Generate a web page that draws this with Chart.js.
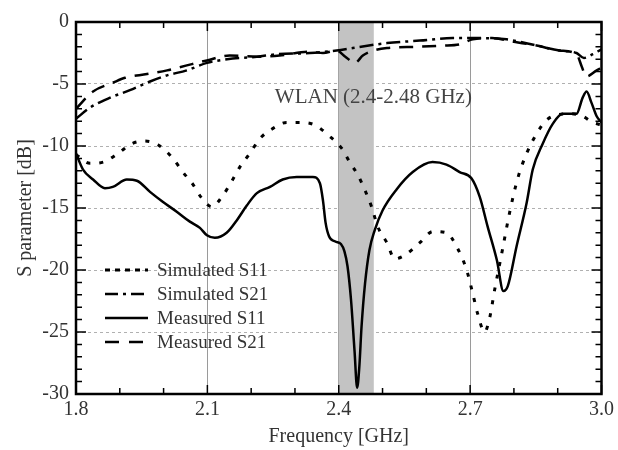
<!DOCTYPE html>
<html>
<head>
<meta charset="utf-8">
<script src="https://cdn.jsdelivr.net/npm/chart.js@4.4.1/dist/chart.umd.min.js"></script>
<style>
  html, body { margin: 0; padding: 0; background: #fff; }
  #wrap { width: 618px; height: 450px; position: relative; }
</style>
</head>
<body>
<div id="wrap"><canvas id="c" width="618" height="450"></canvas></div>
<script>
// ---- Data ----
const seriesNames = ['Simulated S11', 'Simulated S21', 'Measured S11', 'Measured S21'];

const simS11Freq = [1.800,1.832,1.862,1.896,1.928,1.957,1.987,2.019,2.044,2.067,2.087,2.110,2.135,2.158,2.174,2.197,2.220,2.249,2.281,2.311,2.345,2.375,2.407,2.425,2.443,2.459,2.475,2.489,2.510,2.528,2.551,2.585,2.615,2.646,2.669,2.692,2.706,2.717,2.733,2.745,2.756,2.772,2.790,2.808,2.829,2.852,2.875,2.897,2.927,2.957,2.980,3.000];
const simS11Vals = [-10.7,-11.4,-11.3,-10.6,-9.8,-9.6,-9.9,-10.9,-12.1,-13.1,-14.2,-14.9,-14.0,-12.7,-11.7,-10.6,-9.4,-8.6,-8.1,-8.1,-8.3,-9.1,-10.2,-11.3,-12.3,-13.5,-14.9,-16.5,-17.8,-19.1,-18.8,-17.8,-16.9,-17.0,-18.1,-20.0,-21.9,-23.5,-25.0,-23.8,-21.6,-18.7,-15.4,-12.7,-10.6,-9.0,-7.9,-7.5,-7.4,-7.6,-8.1,-8.3];

const simS21Freq = [1.800,1.832,1.878,1.923,1.969,2.008,2.053,2.099,2.145,2.213,2.259,2.334,2.395,2.432,2.510,2.585,2.660,2.722,2.783,2.852,2.904,2.943,2.960,2.980,3.000];
const simS21Vals = [-7.8,-6.9,-6.1,-5.5,-4.8,-4.3,-3.9,-3.3,-3.0,-2.8,-2.6,-2.5,-2.3,-2.1,-1.7,-1.5,-1.3,-1.3,-1.4,-1.9,-2.3,-2.5,-2.9,-2.6,-2.2];

const measS11Freq = [1.800,1.816,1.839,1.866,1.884,1.916,1.939,1.969,1.998,2.030,2.060,2.083,2.099,2.117,2.144,2.167,2.190,2.213,2.243,2.272,2.304,2.341,2.357,2.364,2.370,2.378,2.392,2.405,2.413,2.420,2.428,2.436,2.442,2.447,2.452,2.460,2.470,2.482,2.500,2.532,2.569,2.614,2.646,2.676,2.703,2.722,2.740,2.761,2.776,2.786,2.806,2.829,2.843,2.866,2.889,2.911,2.943,2.957,2.966,2.977,2.989,3.000];
const measS11Vals = [-10.6,-11.9,-12.7,-13.4,-13.3,-12.7,-12.8,-13.7,-14.5,-15.3,-16.1,-16.6,-17.2,-17.4,-17.0,-16.0,-14.8,-13.8,-13.3,-12.7,-12.5,-12.5,-13.0,-14.4,-16.2,-17.3,-17.7,-17.9,-18.5,-19.7,-22.4,-26.5,-29.5,-27.8,-24.6,-21.1,-18.4,-16.8,-15.2,-13.5,-12.1,-11.3,-11.5,-12.1,-12.6,-14.1,-16.5,-19.2,-21.7,-21.3,-18.1,-14.6,-11.9,-9.8,-8.2,-7.4,-7.4,-6.1,-5.6,-6.5,-7.6,-8.1];

const measS21Freq = [1.800,1.839,1.884,1.912,1.962,2.008,2.053,2.099,2.151,2.213,2.265,2.334,2.364,2.395,2.415,2.437,2.455,2.471,2.510,2.578,2.637,2.676,2.706,2.750,2.800,2.852,2.904,2.943,2.955,2.965,2.989,3.000];
const measS21Vals = [-7.0,-5.6,-4.9,-4.5,-4.2,-3.9,-3.5,-3.1,-2.7,-2.8,-2.7,-2.4,-2.5,-2.3,-2.8,-3.3,-2.7,-2.4,-2.1,-2.0,-1.9,-1.8,-1.4,-1.3,-1.6,-1.9,-2.3,-2.6,-3.6,-4.4,-3.9,-3.7];

const xTickLabels = ['1.8', '2.1', '2.4', '2.7', '3.0'];
const yTickLabels = ['0', '-5', '-10', '-15', '-20', '-25', '-30'];
const bandRange = [2.4, 2.48];
const bandLabel = 'WLAN (2.4-2.48 GHz)';
const bandLabelPos = [2.254, -6.1];

// ---- helpers ----
const pts = (fx, fy) => fx.map((f, i) => ({ x: f, y: fy[i] }));
const FONT = 'Liberation Serif, Times New Roman, serif';
const TXT = '#333';

const bandPlugin = {
  id: 'band',
  beforeDatasetsDraw(chart) {
    const { ctx, chartArea: a, scales: { x } } = chart;
    const x0 = x.getPixelForValue(bandRange[0]);
    const x1 = x.getPixelForValue(bandRange[1]);
    ctx.save();
    ctx.fillStyle = '#c3c3c3';
    ctx.fillRect(x0, a.top, x1 - x0, a.height);
    ctx.restore();
  }
};

const framePlugin = {
  id: 'frame',
  afterDraw(chart) {
    const { ctx, chartArea: a, scales: { x, y } } = chart;
    ctx.save();
    ctx.strokeStyle = '#000';
    ctx.lineWidth = 1.5;
    ctx.beginPath();
    const nx = Math.round((x.max - x.min) / 0.1);
    for (let i = 0; i <= nx; i++) {
      const px = x.getPixelForValue(x.min + i * 0.1);
      const L = (i % 3 === 0) ? 9 : 6;
      ctx.moveTo(px, a.bottom); ctx.lineTo(px, a.bottom - L);
      ctx.moveTo(px, a.top); ctx.lineTo(px, a.top + L);
    }
    for (let v = y.max; v >= y.min; v--) {
      const py = y.getPixelForValue(v);
      const L = (v % 5 === 0) ? 10 : 6;
      ctx.moveTo(a.left, py); ctx.lineTo(a.left + L, py);
      ctx.moveTo(a.right, py); ctx.lineTo(a.right - L, py);
    }
    ctx.stroke();
    ctx.lineWidth = 2.5;
    ctx.strokeRect(a.left, a.top, a.width, a.height);

    // band label
    ctx.fillStyle = '#444';
    ctx.font = '21px ' + FONT;
    ctx.textAlign = 'left';
    ctx.textBaseline = 'middle';
    ctx.fillText(bandLabel, x.getPixelForValue(bandLabelPos[0]), y.getPixelForValue(bandLabelPos[1]));

    // legend
    const lx = a.left + 29, ly = a.top + 248, dy = 24;
    chart.data.datasets.forEach((ds, i) => {
      const yy = ly + i * dy;
      ctx.strokeStyle = ds.borderColor;
      ctx.lineWidth = ds.borderWidth;
      ctx.setLineDash(ds.legendDash || []);
      ctx.beginPath();
      ctx.moveTo(lx, yy); ctx.lineTo(lx + 43, yy);
      ctx.stroke();
      ctx.setLineDash([]);
      ctx.fillStyle = TXT;
      ctx.font = '19px ' + FONT;
      ctx.textBaseline = 'middle';
      ctx.fillText(ds.label, lx + 52, yy + 1);
    });
    ctx.restore();
  }
};

const near = (v, t) => Math.abs(v - t) < 1e-6;

new Chart(document.getElementById('c'), {
  type: 'line',
  data: {
    datasets: [
      { label: seriesNames[0], data: pts(simS11Freq, simS11Vals), borderColor: '#000', borderWidth: 3, borderDash: [4, 9], legendDash: [5, 5] },
      { label: seriesNames[1], data: pts(simS21Freq, simS21Vals), borderColor: '#000', borderWidth: 2.5, borderDash: [14, 5, 3, 5], legendDash: [13, 5, 3, 5] },
      { label: seriesNames[2], data: pts(measS11Freq, measS11Vals), borderColor: '#000', borderWidth: 2.5, borderDash: [], legendDash: [] },
      { label: seriesNames[3], data: pts(measS21Freq, measS21Vals), borderColor: '#000', borderWidth: 2.5, borderDash: [14, 9], legendDash: [14, 10] }
    ]
  },
  options: {
    responsive: false,
    animation: false,
    events: [],
    layout: { padding: { left: 0, right: 15, top: 22, bottom: 0 } },
    elements: {
      point: { radius: 0 },
      line: { cubicInterpolationMode: 'monotone', fill: false }
    },
    plugins: { legend: { display: false }, tooltip: { enabled: false } },
    scales: {
      x: {
        type: 'linear', min: 1.8, max: 3.0,
        afterFit: s => { s.height = 56; },
        afterBuildTicks: s => { s.ticks = xTickLabels.map(t => ({ value: parseFloat(t) })); },
        ticks: {
          padding: 4, color: TXT, font: { family: FONT, size: 20 },
          callback: (v) => { const t = xTickLabels.find(l => near(parseFloat(l), v)); return t === undefined ? '' : t; },
          maxRotation: 0, autoSkip: false
        },
        grid: {
          drawTicks: false,
          color: c => (c.tick && c.tick.value > 1.85 && c.tick.value < 2.95) ? '#9a9a9a' : 'transparent',
          lineWidth: 1
        },
        border: { display: false },
        title: { display: true, text: 'Frequency [GHz]', color: TXT, font: { family: FONT, size: 20 }, padding: { top: 0, bottom: 1 } }
      },
      y: {
        type: 'linear', min: -30, max: 0,
        afterFit: s => { s.width = 76; },
        afterBuildTicks: s => { s.ticks = yTickLabels.map(t => ({ value: parseFloat(t) })); },
        ticks: {
          padding: 7, color: TXT, font: { family: FONT, size: 20 },
          callback: (v) => { const t = yTickLabels.find(l => near(parseFloat(l), v)); return t === undefined ? '' : t; }
        },
        grid: {
          drawTicks: false,
          color: c => (c.tick && c.tick.value < -1 && c.tick.value > -29) ? '#b0b0b0' : 'transparent',
          lineWidth: 1
        },
        border: { display: false, dash: [3, 3] },
        title: { display: true, text: 'S parameter [dB]', color: TXT, font: { family: FONT, size: 20 }, padding: { top: 14, bottom: 0 } }
      }
    }
  },
  plugins: [bandPlugin, framePlugin]
});
</script>
</body>
</html>
